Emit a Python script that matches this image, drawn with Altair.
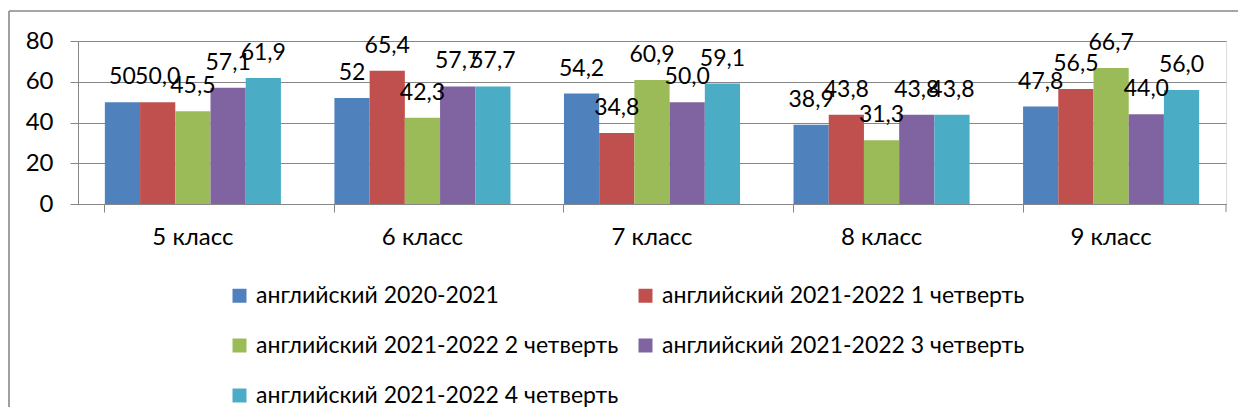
import altair as alt
import pandas as pd

classes = ["5 класс", "6 класс", "7 класс", "8 класс", "9 класс"]
series = [
    "английский 2020-2021",
    "английский 2021-2022 1 четверть",
    "английский 2021-2022 2 четверть",
    "английский 2021-2022 3 четверть",
    "английский 2021-2022 4 четверть",
]
v2020_2021 = [50, 52, 54.2, 38.9, 47.8]
q1 = [50.0, 65.4, 34.8, 43.8, 56.5]
q2 = [45.5, 42.3, 60.9, 31.3, 66.7]
q3 = [57.1, 57.7, 50.0, 43.8, 44.0]
q4 = [61.9, 57.7, 59.1, 43.8, 56.0]
colors = ["#4F81BD", "#C0504D", "#9BBB59", "#8064A2", "#4BACC6"]
y_ticks = [0, 20, 40, 60, 80]

FONT = "Lato"
W, H = 1148, 163

rows = []
for si, (name, vals) in enumerate(zip(series, [v2020_2021, q1, q2, q3, q4])):
    for c, v in zip(classes, vals):
        if si == 0:
            lab = ("%g" % v).replace(".", ",")
        else:
            lab = ("%.1f" % v).replace(".", ",")
        rows.append({"класс": c, "ряд": name, "значение": v, "метка": lab, "order": si})
df = pd.DataFrame(rows)

x_enc = alt.X("класс:N", sort=classes,
              scale=alt.Scale(paddingInner=0.233, paddingOuter=0.117),
              axis=alt.Axis(title=None, labelAngle=0, bandPosition=0, tickSize=8,
                            labelPadding=13, labelFontSize=24, labelFont=FONT,
                            labelColor="#000000", domainColor="#868686",
                            tickColor="#868686", grid=False))
xo_enc = alt.XOffset("ряд:N", sort=series,
                     scale=alt.Scale(paddingInner=0, paddingOuter=0))
y_enc = alt.Y("значение:Q",
              scale=alt.Scale(domain=[0, 80], nice=False),
              axis=alt.Axis(title=None, values=y_ticks, tickSize=8, labelPadding=17,
                            labelFontSize=24, labelFont=FONT, labelColor="#000000",
                            domainColor="#868686", tickColor="#868686",
                            gridColor="#868686", grid=True))

base = alt.Chart(df)

bars = base.mark_bar().encode(
    x=x_enc, xOffset=xo_enc, y=y_enc,
    color=alt.Color("ряд:N", sort=series,
                    scale=alt.Scale(domain=series, range=colors),
                    legend=alt.Legend(title=None, orient="none", legendX=150, legendY=243,
                                      direction="horizontal",
                                      columns=2, symbolType="square", symbolSize=196,
                                      symbolStrokeWidth=0, labelFontSize=23, labelFont=FONT,
                                      labelColor="#000000", labelOffset=5, labelLimit=600,
                                      columnPadding=15, rowPadding=26, padding=0)),
)

labels = base.mark_text(baseline="alphabetic", align="center", dy=-18,
                        fontSize=23, font=FONT, color="#000000").encode(
    x=alt.X("класс:N", sort=classes), xOffset=alt.XOffset("ряд:N", sort=series),
    y=alt.Y("значение:Q"), text="метка:N",
)

one = pd.DataFrame({"k": [0]})
frame_left = alt.Chart(one).mark_rule(color="#888888", strokeWidth=1.6).encode(
    x=alt.value(-69), y=alt.value(-30), y2=alt.value(H + 260))
frame_top = alt.Chart(one).mark_rule(color="#888888", strokeWidth=1.6).encode(
    x=alt.value(-69), x2=alt.value(W + 200), y=alt.value(-30))
end_tick = alt.Chart(one).mark_rule(color="#868686", strokeWidth=1).encode(
    x=alt.value(W), y=alt.value(H), y2=alt.value(H + 8))

chart = alt.layer(bars, labels, frame_left, frame_top, end_tick).properties(
    width=W, height=H,
    autosize=alt.AutoSizeParams(type="none"),
    padding={"left": 70, "top": 33, "right": 12, "bottom": 203},
).configure_view(stroke=None).configure(background="#ffffff")

chart.save("out.html", embed_options={"renderer": "svg", "actions": False})
